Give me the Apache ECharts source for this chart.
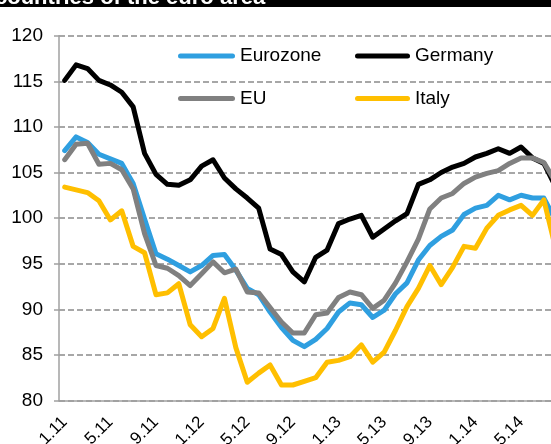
<!DOCTYPE html>
<html><head><meta charset="utf-8">
<script src="https://cdn.jsdelivr.net/npm/echarts@6/dist/echarts.min.js"></script>
<style>html,body{margin:0;padding:0;background:#fff}#c{width:551px;height:444px}</style>
</head><body><div id="c"></div>
<script>
const categories = [
  '1.11','2.11','3.11','4.11','5.11','6.11','7.11','8.11','9.11','10.11','11.11','12.11',
  '1.12','2.12','3.12','4.12','5.12','6.12','7.12','8.12','9.12','10.12','11.12','12.12',
  '1.13','2.13','3.13','4.13','5.13','6.13','7.13','8.13','9.13','10.13','11.13','12.13',
  '1.14','2.14','3.14','4.14','5.14','6.14','7.14','8.14'
];
const eurozone = [107.4,108.9,108.3,107.0,106.5,106.0,103.8,99.9,96.1,95.5,94.8,94.1,
  94.8,95.9,96.0,94.3,92.3,91.6,89.7,88.0,86.6,85.9,86.7,87.9,
  89.7,90.7,90.5,89.1,89.9,91.7,92.9,95.4,97.0,98.0,98.7,100.4,
  101.1,101.4,102.5,102.0,102.5,102.2,102.2,99.8];
const germany = [115.1,116.8,116.4,115.1,114.6,113.8,112.2,107.1,104.8,103.7,103.6,104.2,
  105.7,106.4,104.4,103.2,102.2,101.1,96.6,96.0,94.1,93.0,95.7,96.5,
  99.4,99.9,100.3,97.9,98.8,99.7,100.5,103.7,104.2,105.0,105.6,106.0,
  106.7,107.1,107.6,107.1,107.8,106.6,106.0,103.5];
const eu = [106.4,108.1,108.2,105.9,106.0,105.3,103.2,98.3,94.8,94.5,93.7,92.6,
  93.9,95.2,94.0,94.4,91.9,91.8,90.2,88.6,87.4,87.4,89.4,89.6,
  91.3,91.9,91.6,90.1,91.0,92.9,95.2,97.7,101.0,102.2,102.7,103.8,
  104.5,104.9,105.2,106.0,106.6,106.6,106.1,104.0];
const italy = [103.4,103.1,102.8,101.9,99.8,100.8,96.9,96.2,91.6,91.8,92.8,88.3,
  87.0,87.9,91.2,85.8,82.0,83.0,83.9,81.7,81.7,82.1,82.5,84.2,
  84.4,84.8,86.1,84.2,85.3,87.7,90.3,92.3,94.8,92.7,94.6,96.9,
  96.7,98.9,100.3,100.9,101.4,100.3,102.0,96.8];
const seriesNames = ['Eurozone','Germany','EU','Italy'];
const seriesColors = ['#2f9fe0','#000000','#808080','#ffbf00'];
const yMin = 80, yMax = 120, yStep = 5;
const titleText = 'countries of the euro area';

const chart = echarts.init(document.getElementById('c'), null, {renderer:'canvas'});
const values = [eurozone, germany, eu, italy];
const font = 'Liberation Sans, Arial, Helvetica, sans-serif';
function leg(name, left, top, w) {
  const r = 2.5;
  return {
    data: [name], left: left, top: top, orient: 'horizontal',
    itemWidth: w, itemHeight: 5, padding: 0,
    icon: 'path://M' + r + ',0H' + (w - r) + 'A' + r + ',' + r + ',0,0,1,' + (w - r) + ',5H' + r + 'A' + r + ',' + r + ',0,0,1,' + r + ',0Z',
    textStyle: {fontSize: 19, color: '#000', fontFamily: font}
  };
}
chart.setOption({
  animation: false,
  grid: {left: 59, top: 35.7, width: 502, height: 364.8, containLabel: false, outerBoundsMode: 'none'},
  legend: [
    leg('Eurozone', 178, 46.5, 57),
    leg('Germany', 355, 46.5, 55),
    leg('EU', 178, 89, 57),
    leg('Italy', 355, 89, 55)
  ],
  xAxis: {
    type: 'category', data: categories, boundaryGap: true,
    axisLine: {lineStyle: {color: '#a0a0a0', width: 1.5}},
    axisTick: {interval: 3, length: 5, lineStyle: {color: '#a0a0a0', width: 1.5}},
    axisLabel: {interval: 3, rotate: 45, margin: 19, fontSize: 17, color: '#000', fontFamily: font},
    splitLine: {show: false}
  },
  yAxis: {
    type: 'value', min: yMin, max: yMax, interval: yStep,
    axisLine: {show: true, lineStyle: {color: '#a0a0a0', width: 1.5}},
    axisTick: {show: true, length: 5, lineStyle: {color: '#a0a0a0', width: 1.5}},
    axisLabel: {margin: 16, fontSize: 19, color: '#000', fontFamily: font},
    splitLine: {lineStyle: {color: '#8a8a8a', width: 1.5, type: [6, 3]}}
  },
  series: seriesNames.map((n, k) => ({
    name: n, type: 'line', data: values[k], symbol: 'none', smooth: false,
    color: seriesColors[k],
    lineStyle: {width: 5, color: seriesColors[k], cap: 'round', join: 'round'},
    z: 2 + k
  })),
  graphic: [
    {type: 'rect', left: 0, top: 0, shape: {width: 551, height: 7}, style: {fill: '#000'}, z: 100},
    {type: 'text', x: -5, y: 9, z: 101,
     style: {text: titleText, fill: '#fff', font: 'bold 22px ' + font, textVerticalAlign: 'bottom', verticalAlign: 'bottom'}}
  ]
});
</script></body></html>
